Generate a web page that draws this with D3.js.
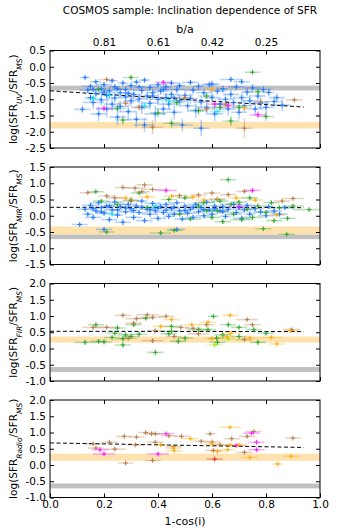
<!DOCTYPE html>
<html>
<head>
<meta charset="utf-8">
<script src="https://cdn.jsdelivr.net/npm/d3@7"></script>
<style>
  body { margin: 0; background: #fff; }
  svg { font-family: "DejaVu Sans", sans-serif; }
</style>
</head>
<body>
<script>
// ---- data ----
// each point: [1-cos(i), log ratio, x error, y error, colour code]
var uvPts = [
  [0.12,-1.31,0.03,0.12,"b"],[0.13,-0.33,0.02,0.06,"b"],[0.14,-0.72,0.03,0.10,"b"],[0.15,-0.95,0.02,0.15,"b"],
  [0.15,-0.60,0.03,0.08,"b"],[0.16,-1.10,0.04,0.20,"b"],[0.17,-0.46,0.02,0.07,"b"],[0.17,-0.82,0.03,0.12,"b"],
  [0.18,-1.45,0.03,0.22,"b"],[0.19,-0.68,0.02,0.10,"b"],[0.19,-1.02,0.03,0.18,"b"],[0.20,-0.55,0.03,0.09,"b"],
  [0.21,-0.88,0.02,0.14,"b"],[0.21,-1.30,0.04,0.25,"b"],[0.22,-0.74,0.03,0.10,"b"],[0.23,-0.43,0.02,0.07,"b"],
  [0.23,-1.15,0.03,0.20,"b"],[0.24,-0.96,0.03,0.15,"b"],[0.24,-0.62,0.02,0.09,"b"],[0.25,-1.55,0.03,0.25,"b"],
  [0.26,-0.80,0.04,0.12,"b"],[0.26,-1.22,0.03,0.18,"b"],[0.27,-0.50,0.02,0.08,"b"],[0.28,-0.93,0.03,0.16,"b"],
  [0.28,-0.70,0.03,0.10,"b"],[0.29,-1.38,0.03,0.22,"b"],[0.30,-0.58,0.02,0.09,"b"],[0.30,-1.05,0.03,0.17,"b"],
  [0.31,-0.85,0.03,0.13,"b"],[0.32,-1.62,0.04,0.25,"b"],[0.32,-0.47,0.02,0.07,"b"],[0.33,-0.99,0.03,0.15,"b"],
  [0.34,-0.73,0.03,0.11,"b"],[0.34,-1.25,0.03,0.20,"b"],[0.35,-0.41,0.02,0.07,"b"],[0.35,-1.79,0.04,0.22,"b"],
  [0.36,-0.90,0.03,0.14,"b"],[0.37,-0.64,0.03,0.10,"b"],[0.37,-1.12,0.03,0.18,"b"],[0.38,-0.80,0.02,0.12,"b"],
  [0.39,-1.45,0.04,0.24,"b"],[0.40,-0.55,0.03,0.09,"b"],[0.40,-1.00,0.03,0.16,"b"],[0.41,-0.75,0.03,0.12,"b"],
  [0.42,-1.30,0.03,0.20,"b"],[0.43,-0.62,0.02,0.10,"b"],[0.43,-0.95,0.03,0.15,"b"],[0.44,-1.15,0.04,0.18,"b"],
  [0.45,-0.50,0.03,0.08,"b"],[0.45,-0.85,0.03,0.13,"b"],[0.46,-1.40,0.03,0.22,"b"],[0.47,-0.70,0.03,0.11,"b"],
  [0.48,-1.05,0.03,0.17,"b"],[0.48,-0.58,0.02,0.09,"b"],[0.49,-1.79,0.04,0.20,"b"],[0.50,-0.88,0.03,0.14,"b"],
  [0.51,-1.20,0.03,0.19,"b"],[0.52,-0.48,0.03,0.08,"b"],[0.52,-0.98,0.03,0.16,"b"],[0.53,-0.72,0.03,0.12,"b"],
  [0.54,-1.35,0.03,0.22,"b"],[0.55,-0.60,0.02,0.10,"b"],[0.56,-1.89,0.03,0.25,"b"],[0.56,-1.08,0.03,0.17,"b"],
  [0.57,-0.80,0.03,0.13,"b"],[0.58,-1.25,0.04,0.20,"b"],[0.59,-0.55,0.03,0.09,"b"],[0.60,-0.53,0.03,0.10,"b"],
  [0.60,-0.95,0.03,0.15,"b"],[0.61,-1.45,0.03,0.23,"b"],[0.62,-0.75,0.03,0.12,"b"],[0.63,-1.15,0.03,0.18,"b"],
  [0.64,-0.68,0.02,0.11,"b"],[0.65,-1.00,0.03,0.16,"b"],[0.66,-1.30,0.03,0.21,"b"],[0.67,-0.39,0.04,0.08,"b"],
  [0.67,-0.85,0.03,0.14,"b"],[0.68,-1.10,0.03,0.18,"b"],[0.69,-0.62,0.03,0.10,"b"],[0.70,-1.40,0.03,0.22,"b"],
  [0.71,-0.46,0.03,0.08,"b"],[0.71,-0.95,0.03,0.15,"b"],[0.72,-1.20,0.03,0.19,"b"],[0.73,-0.78,0.02,0.12,"b"],
  [0.74,-1.05,0.03,0.17,"b"],[0.75,-0.65,0.03,0.11,"b"],[0.76,-1.30,0.03,0.20,"b"],[0.77,-0.90,0.03,0.14,"b"],
  [0.78,-1.12,0.03,0.18,"b"],[0.79,-0.70,0.03,0.11,"b"],[0.80,-1.25,0.03,0.20,"b"],[0.81,-0.79,0.02,0.12,"b"],
  [0.83,-1.07,0.03,0.16,"b"],[0.84,-0.95,0.03,0.14,"b"],[0.86,-1.18,0.03,0.18,"b"],
  [0.16,-0.70,0.02,0.06,"b"],[0.20,-0.78,0.02,0.06,"b"],[0.25,-0.68,0.02,0.06,"b"],[0.29,-0.82,0.02,0.06,"b"],
  [0.33,-0.62,0.02,0.06,"b"],[0.38,-0.90,0.02,0.06,"b"],[0.42,-0.70,0.02,0.06,"b"],[0.46,-0.95,0.02,0.06,"b"],
  [0.16,-0.98,0.03,0.12,"c"],[0.22,-0.87,0.03,0.10,"c"],[0.44,-1.05,0.03,0.12,"c"],[0.62,-1.38,0.03,0.15,"c"],
  [0.35,-1.20,0.03,0.12,"c"],
  [0.30,-0.33,0.03,0.05,"g"],[0.75,-0.17,0.03,0.04,"g"],[0.77,-0.77,0.03,0.06,"g"],[0.27,-1.64,0.03,0.15,"g"],
  [0.45,-1.74,0.03,0.15,"g"],[0.67,-1.67,0.03,0.15,"g"],[0.80,-1.53,0.03,0.14,"g"],[0.25,-1.28,0.03,0.12,"g"],
  [0.55,-1.35,0.03,0.15,"g"],[0.63,-1.25,0.03,0.12,"g"],[0.40,-1.42,0.03,0.14,"g"],[0.18,-0.70,0.03,0.08,"g"],
  [0.58,-0.90,0.03,0.10,"g"],[0.47,-1.10,0.03,0.12,"g"],[0.70,-1.25,0.03,0.12,"g"],
  [0.21,-0.39,0.03,0.05,"n"],[0.38,-1.86,0.04,0.22,"n"],[0.72,-1.89,0.03,0.30,"n"],[0.905,-1.02,0.03,0.06,"n"],
  [0.28,-1.12,0.03,0.10,"n"],[0.33,-1.25,0.03,0.10,"n"],[0.50,-0.95,0.03,0.08,"n"],[0.65,-1.15,0.03,0.10,"n"],
  [0.78,-1.08,0.03,0.10,"n"],[0.58,-1.30,0.03,0.10,"n"],
  [0.60,-0.70,0.03,0.08,"o"],[0.72,-1.27,0.03,0.08,"o"],
  [0.20,-1.28,0.03,0.08,"m"],[0.42,-0.48,0.03,0.06,"m"],[0.77,-1.48,0.03,0.10,"m"],[0.66,-1.20,0.03,0.10,"m"],
  [0.61,-1.15,0.03,0.10,"m"]
];

var mirPts = [
  [0.11,-0.27,0.03,0.06,"b"],[0.13,0.20,0.03,0.08,"b"],[0.14,0.05,0.02,0.07,"b"],[0.15,0.32,0.03,0.08,"b"],
  [0.16,-0.05,0.03,0.09,"b"],[0.17,0.15,0.02,0.07,"b"],[0.18,0.40,0.03,0.08,"b"],[0.19,0.25,0.03,0.06,"b"],
  [0.20,-0.42,0.03,0.07,"b"],[0.20,0.08,0.03,0.08,"b"],[0.21,0.30,0.02,0.07,"b"],[0.22,-0.12,0.03,0.09,"b"],
  [0.23,0.18,0.03,0.08,"b"],[0.24,0.42,0.03,0.07,"b"],[0.25,0.02,0.02,0.08,"b"],[0.26,0.28,0.03,0.07,"b"],
  [0.27,-0.20,0.03,0.10,"b"],[0.28,0.12,0.03,0.08,"b"],[0.29,0.35,0.03,0.07,"b"],[0.30,0.22,0.02,0.06,"b"],
  [0.31,-0.05,0.03,0.09,"b"],[0.32,0.30,0.03,0.07,"b"],[0.33,0.10,0.03,0.08,"b"],[0.34,0.45,0.02,0.07,"b"],
  [0.35,-0.15,0.03,0.09,"b"],[0.36,0.20,0.03,0.07,"b"],[0.37,0.05,0.03,0.08,"b"],[0.38,0.38,0.03,0.07,"b"],
  [0.39,0.15,0.02,0.06,"b"],[0.40,-0.08,0.03,0.09,"b"],[0.41,0.28,0.03,0.07,"b"],[0.42,0.10,0.03,0.08,"b"],
  [0.43,0.35,0.03,0.07,"b"],[0.44,-0.02,0.02,0.08,"b"],[0.45,0.22,0.03,0.07,"b"],[0.46,0.05,0.03,0.08,"b"],
  [0.47,-0.42,0.03,0.07,"b"],[0.47,0.40,0.03,0.07,"b"],[0.48,0.15,0.03,0.06,"b"],[0.49,-0.10,0.03,0.09,"b"],
  [0.50,0.30,0.02,0.07,"b"],[0.51,0.08,0.03,0.08,"b"],[0.52,0.20,0.03,0.07,"b"],[0.53,-0.05,0.03,0.08,"b"],
  [0.54,0.35,0.03,0.07,"b"],[0.55,0.12,0.02,0.06,"b"],[0.56,0.25,0.03,0.07,"b"],[0.57,0.00,0.03,0.09,"b"],
  [0.58,0.42,0.03,0.07,"b"],[0.59,0.18,0.03,0.08,"b"],[0.60,0.05,0.02,0.07,"b"],[0.61,0.30,0.03,0.07,"b"],
  [0.62,0.50,0.03,0.06,"b"],[0.63,0.15,0.03,0.08,"b"],[0.64,0.28,0.03,0.07,"b"],[0.65,-0.02,0.02,0.08,"b"],
  [0.66,0.20,0.03,0.07,"b"],[0.68,0.35,0.03,0.07,"b"],[0.69,0.10,0.03,0.08,"b"],[0.70,0.25,0.02,0.06,"b"],
  [0.71,-0.08,0.03,0.09,"b"],[0.72,0.18,0.03,0.07,"b"],[0.73,0.32,0.03,0.07,"b"],[0.74,0.05,0.02,0.08,"b"],
  [0.76,0.22,0.03,0.07,"b"],[0.78,0.12,0.03,0.08,"b"],[0.80,0.00,0.03,0.07,"b"],[0.81,0.28,0.02,0.07,"b"],
  [0.83,0.15,0.03,0.08,"b"],[0.85,0.05,0.03,0.07,"b"],[0.87,0.25,0.03,0.06,"b"],
  [0.16,0.22,0.02,0.05,"b"],[0.19,0.12,0.02,0.05,"b"],[0.22,0.30,0.02,0.05,"b"],[0.25,0.18,0.02,0.05,"b"],
  [0.28,0.24,0.02,0.05,"b"],[0.31,0.16,0.02,0.05,"b"],[0.34,0.26,0.02,0.05,"b"],[0.37,0.19,0.02,0.05,"b"],
  [0.40,0.23,0.02,0.05,"b"],[0.43,0.17,0.02,0.05,"b"],[0.46,0.27,0.02,0.05,"b"],[0.50,0.16,0.02,0.05,"b"],
  [0.53,0.26,0.02,0.05,"b"],[0.57,0.19,0.02,0.05,"b"],[0.61,0.22,0.02,0.05,"b"],[0.64,0.12,0.02,0.05,"b"],
  [0.23,0.05,0.03,0.06,"c"],[0.39,0.30,0.03,0.06,"c"],
  [0.17,0.74,0.03,0.05,"g"],[0.21,-0.50,0.03,0.06,"g"],[0.19,0.45,0.03,0.06,"g"],[0.25,0.35,0.03,0.07,"g"],
  [0.30,0.48,0.03,0.06,"g"],[0.33,0.70,0.03,0.05,"g"],[0.36,0.25,0.03,0.07,"g"],[0.41,-0.53,0.04,0.06,"g"],
  [0.46,-0.45,0.03,0.06,"g"],[0.44,0.50,0.03,0.06,"g"],[0.50,0.55,0.03,0.06,"g"],[0.52,-0.10,0.04,0.07,"g"],
  [0.55,0.30,0.03,0.07,"g"],[0.57,0.40,0.04,0.06,"g"],[0.60,-0.05,0.03,0.08,"g"],[0.62,0.15,0.04,0.07,"g"],
  [0.64,-0.18,0.03,0.07,"g"],[0.66,1.11,0.03,0.04,"g"],[0.67,0.35,0.04,0.06,"g"],[0.68,0.05,0.03,0.07,"g"],
  [0.70,0.42,0.03,0.06,"g"],[0.71,-0.12,0.04,0.07,"g"],[0.73,0.20,0.03,0.06,"g"],[0.74,0.55,0.03,0.05,"g"],
  [0.75,-0.05,0.04,0.07,"g"],[0.77,0.30,0.03,0.06,"g"],[0.79,-0.40,0.03,0.05,"g"],[0.80,0.10,0.04,0.07,"g"],
  [0.82,0.40,0.03,0.06,"g"],[0.83,-0.15,0.03,0.06,"g"],[0.85,0.25,0.04,0.06,"g"],[0.877,-0.57,0.03,0.05,"g"],
  [0.88,-0.08,0.03,0.06,"g"],[0.90,0.30,0.04,0.06,"g"],[0.96,0.19,0.06,0.05,"g"],[0.58,0.15,0.03,0.06,"g"],
  [0.48,0.05,0.03,0.07,"g"],[0.63,0.45,0.03,0.06,"g"],
  [0.14,0.71,0.03,0.05,"n"],[0.21,0.61,0.03,0.05,"n"],[0.27,0.87,0.03,0.04,"n"],[0.315,0.85,0.04,0.04,"n"],
  [0.35,0.95,0.03,0.04,"n"],[0.38,0.81,0.04,0.04,"n"],[0.34,0.74,0.03,0.05,"n"],[0.24,0.55,0.03,0.05,"n"],
  [0.48,0.62,0.03,0.05,"n"],[0.55,0.64,0.03,0.05,"n"],[0.60,0.70,0.03,0.05,"n"],[0.66,0.65,0.03,0.05,"n"],
  [0.72,0.75,0.03,0.05,"n"],[0.90,0.53,0.04,0.05,"n"],[0.86,0.45,0.03,0.05,"n"],[0.30,0.45,0.03,0.05,"n"],
  [0.28,0.55,0.03,0.05,"o"],[0.36,0.58,0.03,0.05,"o"],[0.45,0.60,0.03,0.05,"o"],[0.53,0.58,0.03,0.05,"o"],
  [0.62,0.52,0.03,0.05,"o"],[0.69,0.55,0.03,0.05,"o"],[0.84,0.02,0.03,0.05,"o"],[0.76,0.48,0.03,0.05,"o"],
  [0.57,0.48,0.03,0.05,"o"],
  [0.43,0.78,0.04,0.06,"m"],[0.75,0.78,0.03,0.05,"m"],[0.70,0.28,0.04,0.06,"m"]
];

var firPts = [
  [0.13,0.19,0.04,0.08,"g"],[0.18,0.22,0.03,0.07,"g"],[0.20,0.20,0.03,0.07,"g"],[0.27,0.11,0.03,0.09,"g"],
  [0.39,-0.12,0.03,0.09,"g"],[0.17,0.73,0.03,0.07,"g"],[0.25,0.63,0.03,0.07,"g"],[0.31,0.73,0.03,0.06,"g"],
  [0.24,0.47,0.03,0.07,"g"],[0.28,0.42,0.03,0.07,"g"],[0.30,0.37,0.03,0.07,"g"],[0.23,0.34,0.03,0.06,"g"],
  [0.27,0.30,0.03,0.07,"g"],[0.33,0.44,0.03,0.06,"g"],[0.45,0.53,0.03,0.07,"g"],[0.45,0.68,0.03,0.06,"g"],
  [0.50,0.32,0.03,0.07,"g"],[0.475,0.22,0.03,0.07,"g"],[0.55,0.58,0.04,0.07,"g"],[0.605,0.99,0.02,0.05,"g"],
  [0.585,0.58,0.03,0.06,"g"],[0.66,0.73,0.03,0.07,"g"],[0.70,0.65,0.03,0.06,"g"],[0.755,0.58,0.03,0.06,"g"],
  [0.617,0.32,0.03,0.07,"g"],[0.62,0.19,0.03,0.08,"g"],[0.70,0.37,0.03,0.06,"g"],[0.77,0.19,0.03,0.08,"g"],
  [0.80,0.47,0.03,0.06,"g"],[0.355,0.93,0.03,0.05,"g"],[0.44,0.45,0.03,0.06,"g"],[0.64,0.42,0.03,0.06,"g"],
  [0.61,0.11,0.03,0.06,"l"],[0.66,0.30,0.03,0.06,"l"],
  [0.16,0.65,0.04,0.05,"n"],[0.21,0.65,0.04,0.05,"n"],[0.27,1.02,0.03,0.04,"n"],[0.32,0.92,0.04,0.04,"n"],
  [0.36,1.04,0.04,0.04,"n"],[0.38,0.96,0.04,0.04,"n"],[0.43,0.99,0.03,0.04,"n"],[0.39,0.55,0.03,0.05,"n"],
  [0.38,0.24,0.04,0.08,"n"],[0.31,0.78,0.03,0.05,"n"],[0.29,0.32,0.03,0.05,"n"],[0.46,0.37,0.03,0.05,"n"],
  [0.485,0.65,0.03,0.05,"n"],[0.58,0.73,0.03,0.05,"n"],[0.73,0.89,0.04,0.05,"n"],[0.75,0.73,0.03,0.05,"n"],
  [0.72,0.27,0.03,0.05,"n"],[0.895,0.58,0.03,0.05,"n"],[0.53,0.62,0.03,0.05,"n"],[0.55,0.45,0.04,0.05,"n"],
  [0.45,0.89,0.03,0.04,"o"],[0.41,0.68,0.03,0.04,"o"],[0.525,0.73,0.03,0.04,"o"],[0.585,0.81,0.03,0.04,"o"],
  [0.667,1.02,0.03,0.04,"o"],[0.67,0.47,0.04,0.05,"o"],[0.655,0.37,0.03,0.05,"o"],[0.74,0.32,0.03,0.05,"o"],
  [0.82,0.34,0.04,0.05,"o"],[0.84,0.14,0.03,0.04,"o"],[0.89,0.55,0.03,0.04,"o"],[0.60,0.30,0.03,0.05,"o"]
];

var radioPts = [
  [0.16,0.65,0.03,0.04,"n"],[0.17,0.52,0.03,0.05,"n"],[0.22,0.70,0.03,0.04,"n"],[0.24,0.49,0.04,0.06,"n"],
  [0.275,0.88,0.03,0.04,"n"],[0.28,0.06,0.03,0.05,"n"],[0.32,0.86,0.03,0.04,"n"],[0.317,0.62,0.03,0.04,"n"],
  [0.354,1.00,0.03,0.04,"n"],[0.376,0.96,0.03,0.04,"n"],[0.39,0.96,0.03,0.04,"n"],[0.38,0.14,0.03,0.06,"n"],
  [0.39,0.70,0.03,0.04,"n"],[0.44,0.90,0.03,0.04,"n"],[0.457,0.57,0.03,0.04,"n"],[0.487,0.88,0.03,0.04,"n"],
  [0.56,0.73,0.03,0.04,"n"],[0.593,0.96,0.02,0.04,"n"],[0.60,0.71,0.03,0.04,"n"],[0.605,0.45,0.03,0.04,"n"],
  [0.673,0.81,0.03,0.04,"n"],[0.72,0.39,0.03,0.04,"n"],[0.73,0.88,0.03,0.04,"n"],[0.755,1.03,0.03,0.04,"n"],
  [0.90,0.83,0.03,0.04,"n"],[0.63,0.62,0.03,0.04,"n"],
  [0.185,0.47,0.03,0.05,"m"],[0.20,0.34,0.04,0.06,"m"],[0.40,0.34,0.04,0.06,"m"],[0.43,0.96,0.03,0.04,"m"],
  [0.747,0.98,0.03,0.04,"m"],[0.765,0.47,0.03,0.04,"m"],[0.765,0.70,0.03,0.04,"m"],[0.69,0.60,0.03,0.04,"m"],
  [0.41,0.62,0.02,0.04,"o"],[0.457,0.52,0.03,0.05,"o"],[0.46,0.44,0.03,0.05,"o"],[0.52,0.81,0.03,0.04,"o"],
  [0.60,0.65,0.03,0.04,"o"],[0.62,0.42,0.03,0.04,"o"],[0.667,1.16,0.04,0.04,"o"],[0.658,0.47,0.03,0.04,"o"],
  [0.667,0.62,0.03,0.04,"o"],[0.70,0.62,0.03,0.04,"o"],[0.74,0.23,0.03,0.05,"o"],[0.843,0.03,0.02,0.05,"o"],
  [0.893,0.27,0.03,0.05,"o"],
  [0.61,0.18,0.03,0.05,"r"]
];

// shaded bands [low, high] : orange and grey
var orangeBands = [[-1.90, -1.70], [-0.58, -0.33], [0.18, 0.37], [0.13, 0.35]];
var greyBands   = [[-0.73, -0.58], [-0.72, -0.58], [-0.72, -0.57], [-0.72, -0.57]];
// dashed fits [x0, y0, x1, y1]
var fits = [[0, -0.74, 0.94, -1.24], [0, 0.26, 0.94, 0.25], [0, 0.53, 0.94, 0.52], [0, 0.68, 0.94, 0.54]];

var yDomains = [[-2.5, 0.5], [-1.5, 1.5], [-1.0, 2.0], [-1.0, 2.0]];
var ySubs = ["UV", "MIR", "FIR", "Radio"];
var xTicks = [0, 0.2, 0.4, 0.6, 0.8, 1.0];
var baTicks = [0.2, 0.4, 0.6, 0.8];
var baLabels = ["0.81", "0.61", "0.42", "0.25"];
var colours = {b: "#1f75fe", c: "#19e0f0", g: "#2aa52a", l: "#a8e000", n: "#b87b48", o: "#ffaa00", m: "#ff10ff", r: "#ee2020"};

// ---- layout ----
var W = 357, H = 531;
var left = 50, right = 320, panelH = 97.5;
var tops = [50.5, 167, 283.5, 400];

var svg = d3.select("body").append("svg").attr("width", W).attr("height", H);

var x = d3.scaleLinear().domain([0, 1]).range([left, right]);
var allPts = [uvPts, mirPts, firPts, radioPts];
var fmt = function(d){ return d3.format(".1f")(d).replace("\u2212", "-"); };

svg.append("text")
    .attr("x", 190).attr("y", 14)
    .attr("text-anchor", "middle")
    .style("font-size", "10.5px")
    .text("COSMOS sample: Inclination dependence of SFR");

allPts.forEach(function(pts, i) {
    var top = tops[i];
    var y = d3.scaleLinear().domain(yDomains[i]).range([top + panelH, top]);
    var g = svg.append("g");

    g.append("clipPath").attr("id", "clip" + i)
      .append("rect").attr("x", left).attr("y", top).attr("width", right - left).attr("height", panelH);

    var body = g.append("g").attr("clip-path", "url(#clip" + i + ")");

    // bands
    body.append("rect")
        .attr("x", left).attr("width", right - left)
        .attr("y", y(orangeBands[i][1])).attr("height", y(orangeBands[i][0]) - y(orangeBands[i][1]))
        .attr("fill", "#fee2ae");
    body.append("rect")
        .attr("x", left).attr("width", right - left)
        .attr("y", y(greyBands[i][1])).attr("height", y(greyBands[i][0]) - y(greyBands[i][1]))
        .attr("fill", "#c0c0c0");

    // error bars (faint)
    var eb = body.append("g").attr("stroke-width", 1.6).attr("stroke-opacity", 0.32);
    eb.selectAll(".ex").data(pts).join("line")
        .attr("x1", function(d){ return x(d[0] - d[2]); })
        .attr("x2", function(d){ return x(d[0] + d[2]); })
        .attr("y1", function(d){ return y(d[1]); })
        .attr("y2", function(d){ return y(d[1]); })
        .attr("stroke", function(d){ return colours[d[4]]; });
    eb.selectAll(".ey").data(pts).join("line")
        .attr("x1", function(d){ return x(d[0]); })
        .attr("x2", function(d){ return x(d[0]); })
        .attr("y1", function(d){ return y(d[1] - d[3]); })
        .attr("y2", function(d){ return y(d[1] + d[3]); })
        .attr("stroke", function(d){ return colours[d[4]]; });

    // fit line
    var f = fits[i];
    body.append("line")
        .attr("x1", x(f[0])).attr("y1", y(f[1]))
        .attr("x2", x(f[2])).attr("y2", y(f[3]))
        .attr("stroke", "#000").attr("stroke-width", 1)
        .attr("stroke-dasharray", "4,2.5");

    // '+' markers
    body.selectAll(".pt").data(pts).join("path")
        .attr("d", function(d){
            var cx = x(d[0]), cy = y(d[1]), s = 2.4;
            return "M" + (cx - s) + "," + cy + "H" + (cx + s) + "M" + cx + "," + (cy - s) + "V" + (cy + s);
        })
        .attr("stroke", function(d){ return colours[d[4]]; })
        .attr("stroke-width", 0.9);

    // axes with inward ticks
    var yTicks = d3.range(yDomains[i][0], yDomains[i][1] + 0.01, 0.5);
    var ax = g.append("g").attr("transform", "translate(" + left + ",0)")
        .call(d3.axisLeft(y).tickValues(yTicks).tickFormat(fmt).tickSizeInner(-4).tickSizeOuter(0).tickPadding(4));
    ax.select(".domain").remove();
    ax.selectAll("text").style("font-size", "10.5px").style("font-family", "DejaVu Sans");

    var axr = g.append("g").attr("transform", "translate(" + right + ",0)")
        .call(d3.axisRight(y).tickValues(yTicks).tickFormat("").tickSizeInner(-4).tickSizeOuter(0));
    axr.select(".domain").remove();

    var axt = g.append("g").attr("transform", "translate(0," + top + ")")
        .call(d3.axisTop(x).tickValues(baTicks).tickSizeInner(-4).tickSizeOuter(0).tickPadding(4.5)
            .tickFormat(function(d, k){ return i === 0 ? baLabels[k] : ""; }));
    axt.select(".domain").remove();
    axt.selectAll("text").style("font-size", "10.5px").style("font-family", "DejaVu Sans");

    var axb = g.append("g").attr("transform", "translate(0," + (top + panelH) + ")")
        .call(d3.axisBottom(x).tickValues(xTicks).tickSizeInner(-4).tickSizeOuter(0).tickPadding(3.5)
            .tickFormat(function(d){ return i === 3 ? fmt(d) : ""; }));
    axb.select(".domain").remove();
    axb.selectAll("text").style("font-size", "10.5px").style("font-family", "DejaVu Sans");

    // frame
    g.append("rect")
        .attr("x", left).attr("y", top).attr("width", right - left).attr("height", panelH)
        .attr("fill", "none").attr("stroke", "#000").attr("stroke-width", 1);

    // y label
    var lab = g.append("text")
        .attr("transform", "translate(17," + (top + panelH / 2) + ") rotate(-90)")
        .attr("text-anchor", "middle")
        .style("font-size", "10.5px");
    lab.append("tspan").text("log(SFR");
    lab.append("tspan").attr("baseline-shift", "sub").style("font-size", "7.5px").style("font-style", "italic").text(ySubs[i]);
    lab.append("tspan").text("/SFR");
    lab.append("tspan").attr("baseline-shift", "sub").style("font-size", "7.5px").style("font-style", "italic").text("MS");
    lab.append("tspan").text(")");
});

svg.append("text")
    .attr("x", 185).attr("y", 32.5)
    .attr("text-anchor", "middle")
    .style("font-size", "11px")
    .text("b/a");

svg.append("text")
    .attr("x", 185).attr("y", 525)
    .attr("text-anchor", "middle")
    .style("font-size", "11px")
    .text("1-cos(i)");
</script>
</body>
</html>
